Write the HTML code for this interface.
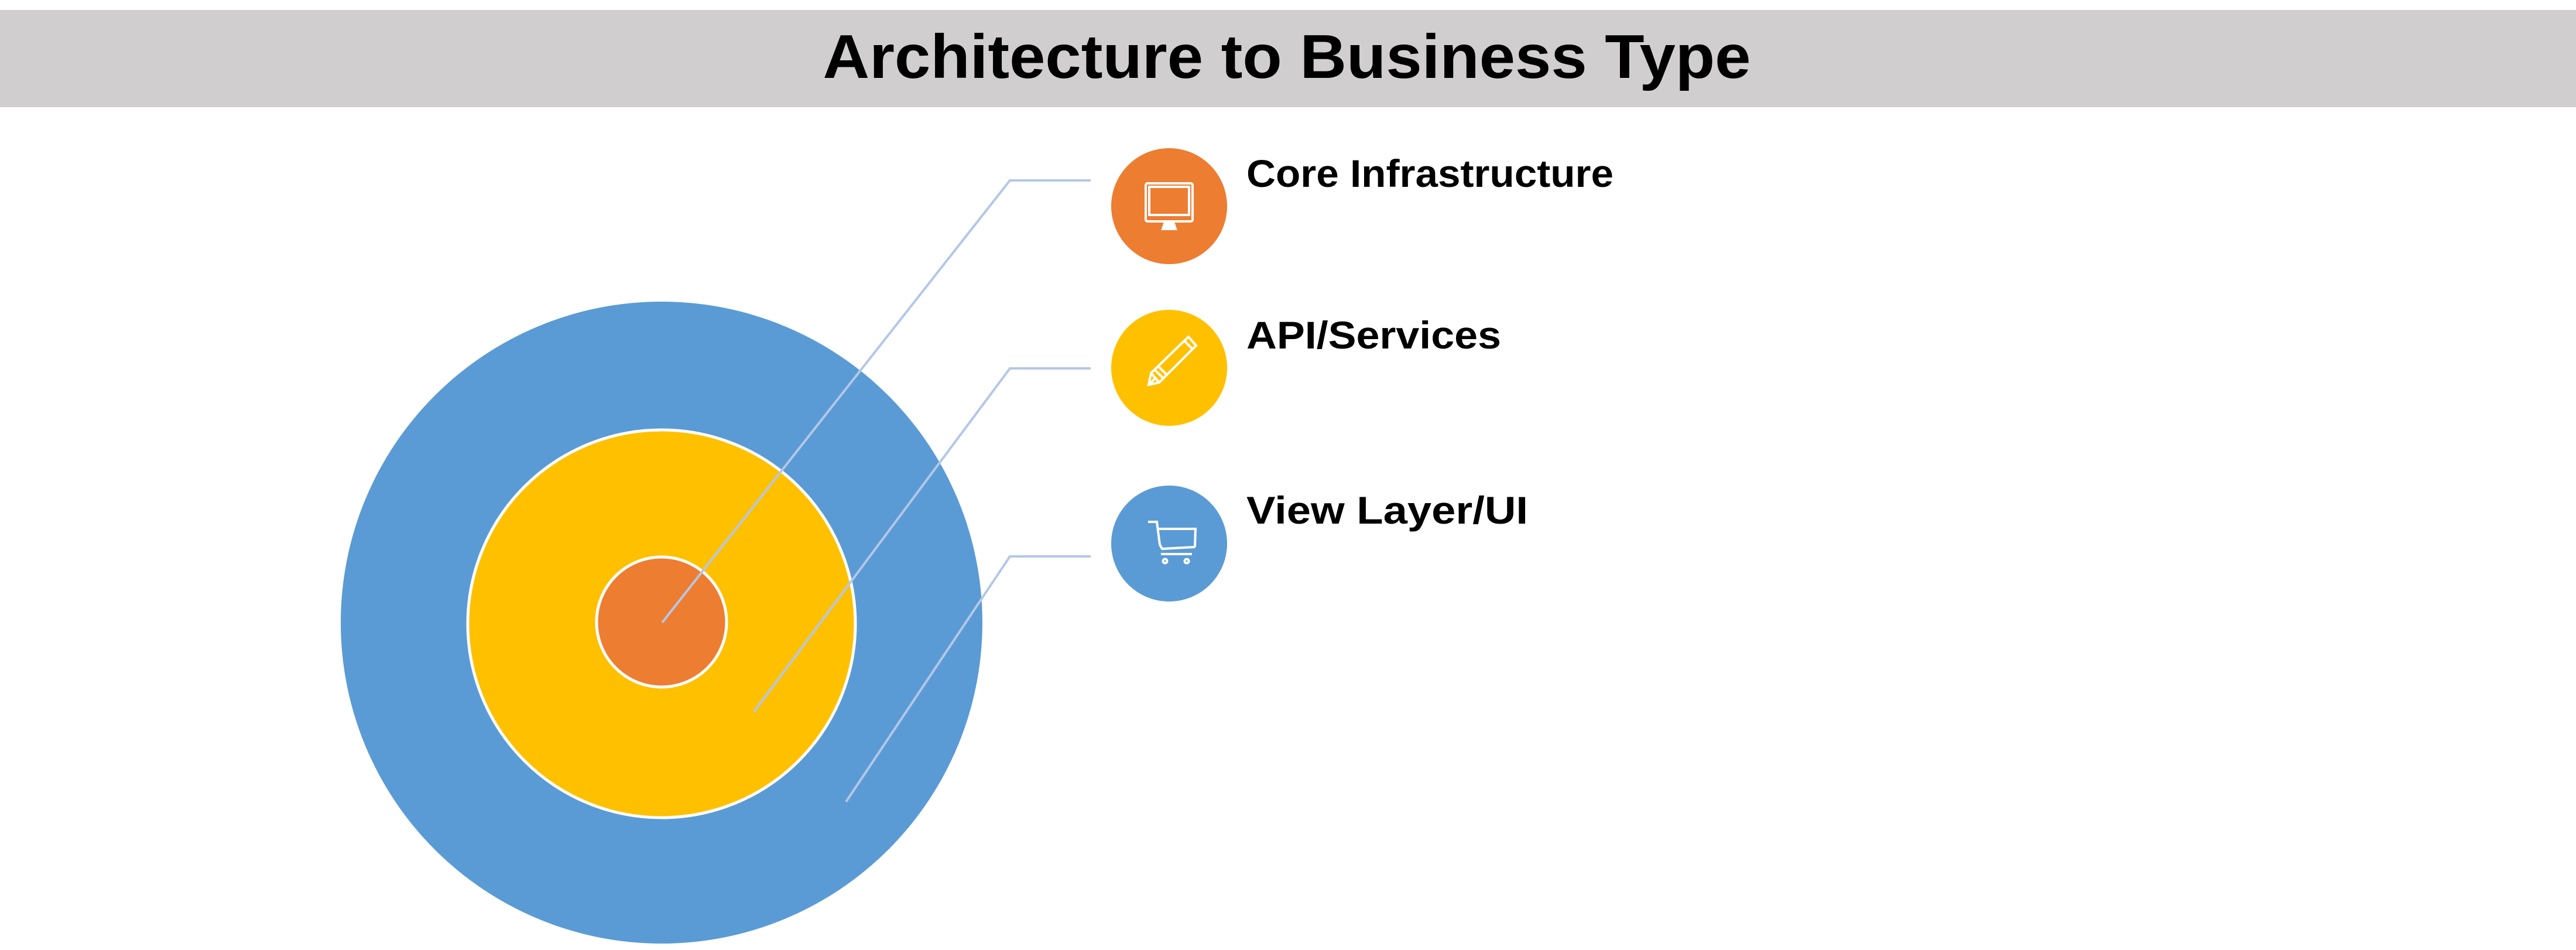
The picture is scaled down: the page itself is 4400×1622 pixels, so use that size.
<!DOCTYPE html>
<html><head><meta charset="utf-8"><style>
html,body{margin:0;padding:0;background:#fff;}
</style></head><body>
<svg width="4400" height="1617" viewBox="0 0 4400 1617" xmlns="http://www.w3.org/2000/svg">
<rect x="0" y="0" width="4400" height="1617" fill="#fff"/>
<rect x="0" y="17" width="4400" height="166" fill="#d0cece"/>
<text x="2198" y="133" text-anchor="middle" font-family="Liberation Sans, sans-serif" font-weight="bold" font-size="106" textLength="1585" lengthAdjust="spacingAndGlyphs" fill="#000">Architecture to Business Type</text>

<circle cx="1130" cy="1063" r="548" fill="#5b9bd5"/>
<circle cx="1130" cy="1065" r="331" fill="#ffc000" stroke="#fff" stroke-width="5"/>
<circle cx="1130" cy="1062" r="111" fill="#ed7d31" stroke="#fff" stroke-width="5"/>

<g stroke="#b4c7e7" stroke-width="4" fill="none">
<polyline points="1863,308 1725,308 1131,1063"/>
<polyline points="1863,629 1725,629 1288,1215"/>
<polyline points="1863,950 1725,950 1445,1369"/>
</g>

<circle cx="1997" cy="352" r="99" fill="#ed7d31"/>
<circle cx="1997" cy="628" r="99" fill="#ffc000"/>
<circle cx="1997" cy="928" r="99" fill="#5b9bd5"/>

<g stroke="#fff" stroke-width="4" fill="none">
<rect x="1957" y="313" width="80" height="65" rx="3"/>
<rect x="1963" y="319" width="68" height="48"/>
<path d="M1990 379 L1986 391 L2008 391 L2004 379" fill="#fff"/>
<path d="M1962 657 L1966 637 L2030 575 L2043 590 L1980 653 Z M1966 637 L1980 653 M1972 631 L1987 646 M1978 625 L1993 640 M2023 582 L2037 596 M1962 657 L1972 647"/>
<path d="M1961 891 L1976 891 L1981 930 L1985 937 L2041 934 M1978 903 L2042 903 L2041 934 M1983 946 L2036 946"/>
<circle cx="1990" cy="958" r="3.5"/>
<circle cx="2027" cy="958" r="3.5"/>
</g>

<g font-family="Liberation Sans, sans-serif" font-weight="bold" font-size="66" fill="#000">
<text x="2129" y="319" textLength="627" lengthAdjust="spacingAndGlyphs">Core Infrastructure</text>
<text x="2129" y="595" textLength="435" lengthAdjust="spacingAndGlyphs">API/Services</text>
<text x="2129" y="894" textLength="481" lengthAdjust="spacingAndGlyphs">View Layer/UI</text>
</g>
</svg>
</body></html>
